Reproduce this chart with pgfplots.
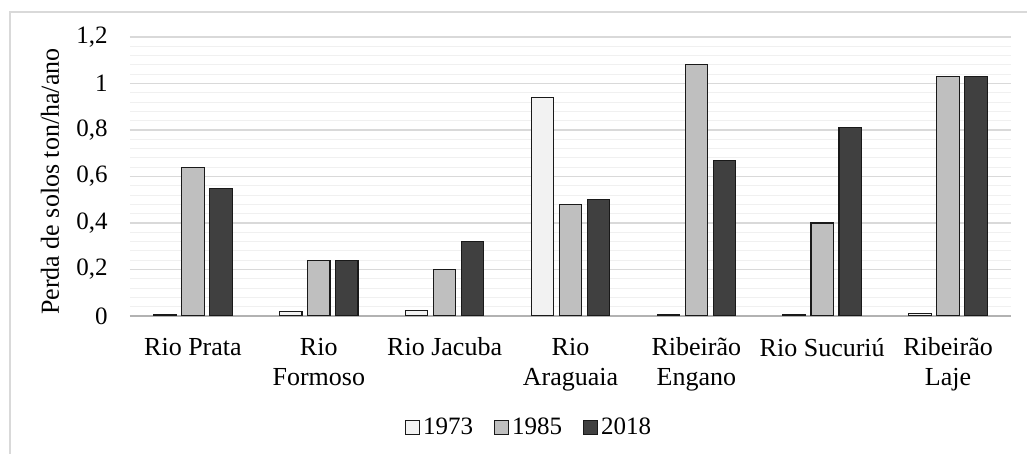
\documentclass[border=0pt]{standalone}
\usepackage{pgfplots}
\pgfplotsset{compat=1.18}
\usepackage{fontspec}
\setmainfont{Liberation Serif}

\definecolor{c73}{HTML}{F2F2F2}
\definecolor{c85}{HTML}{BFBFBF}
\definecolor{c18}{HTML}{404040}

\pgfplotsset{
  sq/.style={legend image code/.code={%
    \draw[##1, line width=0.5pt] (0pt,-3.5pt) rectangle (7pt,3.5pt);}},
}

\begin{document}
\begin{tikzpicture}
\useasboundingbox (-65pt,-69pt) rectangle (448.5pt,158pt);
% chart area frame (runs past the right and bottom edges)
\draw[gray!30, line width=0.6pt] (-60pt,-90pt) rectangle (470pt,152pt);
\begin{axis}[
  at={(0,0)}, anchor=south west,
  scale only axis, width=440.5pt, height=139.5pt,
  ybar=2.75pt, bar width=11.25pt,
  xmin=-0.5, xmax=6.5, ymin=0, ymax=1.2,
  enlargelimits=false,
  xtick={0,1,2,3,4,5,6},
  xticklabels={Rio Prata, Rio\\Formoso, Rio Jacuba, Rio\\Araguaia,
    Ribeirão\\Engano, Rio Sucuriú, Ribeirão\\Laje},
  x tick label style={font=\fontsize{13}{15}\selectfont, align=center,
    inner sep=0pt, anchor=north, yshift=-6.5pt},
  ytick={0,0.2,0.4,0.6,0.8,1,1.2},
  minor y tick num=4,
  y tick label style={font=\fontsize{12.5}{14}\selectfont, inner sep=0pt,
    anchor=east, xshift=-11pt},
  /pgf/number format/use comma,
  /pgf/number format/assume math mode=true,
  axis line style={draw=none},
  tick style={draw=none},
  ymajorgrids, yminorgrids,
  major grid style={draw=black!15, line width=0.6pt},
  minor grid style={draw=black!6, line width=0.5pt},
  extra y ticks={0}, extra y tick labels={},
  extra y tick style={grid=major, major grid style={draw=black!30, line width=0.9pt}},
  ylabel={Perda de solos ton/ha/ano},
  every axis y label/.style={at={(axis description cs:-0.0908,0.482)},
    rotate=90, anchor=center, font=\fontsize{13}{15}\selectfont},
  legend columns=3,
  legend style={at={(axis description cs:0.4535,-0.401)}, anchor=center,
    draw=none, fill=none, font=\fontsize{12.5}{14}\selectfont,
    inner xsep=0pt, inner ysep=0pt,
    nodes={inner xsep=1.5pt, inner ysep=0pt},
    /tikz/every even column/.append style={column sep=9pt}},
]
\addplot[fill=c73, draw=black!90, line width=0.6pt, sq] coordinates {
  (0,0.006) (1,0.02) (2,0.022) (3,0.94) (4,0.006) (5,0.006) (6,0.01)};
\addplot[fill=c85, draw=black!90, line width=0.6pt, sq] coordinates {
  (0,0.64) (1,0.24) (2,0.20) (3,0.48) (4,1.08) (5,0.40) (6,1.03)};
\addplot[fill=c18, draw=black!90, line width=0.6pt, sq] coordinates {
  (0,0.55) (1,0.24) (2,0.32) (3,0.50) (4,0.67) (5,0.81) (6,1.03)};
\legend{1973, 1985, 2018}
\end{axis}
\end{tikzpicture}
\end{document}
